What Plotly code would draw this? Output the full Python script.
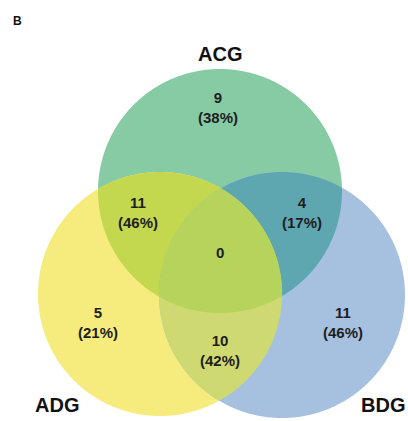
import numpy as np
import plotly.graph_objects as go

# Set names and region counts / shares
set_names = ["ACG", "ADG", "BDG"]
region_keys = ["ACG", "ACG&ADG", "ACG&BDG", "ACG&ADG&BDG", "ADG", "ADG&BDG", "BDG"]
region_counts = [9, 11, 4, 0, 5, 10, 11]
region_pcts = [38, 46, 17, None, 21, 42, 46]
panel_label = "B"

# Layout: circle centres/radii (in pixel-like plot units) and colours
W, H = 408, 421
circles = {
    "ACG": ((220, 191), 122),
    "ADG": ((160, 294), 122),
    "BDG": ((282, 295), 123),
}
fill = {
    "ACG": "#86CBA4",
    "ADG": "#F5EC7D",
    "BDG": "#A6C0DF",
    "ACG&ADG": "#C3D84F",
    "ACG&BDG": "#5EA7B1",
    "ADG&BDG": "#CFD972",
    "ACG&ADG&BDG": "#B6D45B",
}
label_pos = {
    "ACG": (218, 107),
    "ACG&ADG": (138, 212),
    "ACG&BDG": (302, 212),
    "ACG&ADG&BDG": (220, 252),
    "ADG": (98, 322),
    "ADG&BDG": (220, 350),
    "BDG": (343, 322),
}
name_pos = {"ACG": (219.5, 54), "ADG": (57, 405), "BDG": (383, 405)}


def ring(name, n=1440):
    (cx, cy), r = circles[name]
    t = np.linspace(0, 2 * np.pi, n, endpoint=False)
    return np.column_stack([cx + r * np.cos(t), cy + r * np.sin(t)])


def inside(pts, name):
    (cx, cy), r = circles[name]
    return np.hypot(pts[:, 0] - cx, pts[:, 1] - cy) <= r + 1e-9


def intersection_polygon(names):
    """Convex intersection of several circles, as a sampled polygon."""
    keep = []
    for nm in names:
        pts = ring(nm)
        mask = np.ones(len(pts), bool)
        for other in names:
            if other != nm:
                mask &= inside(pts, other)
        keep.append(pts[mask])
    pts = np.vstack(keep)
    c = pts.mean(axis=0)
    order = np.argsort(np.arctan2(pts[:, 1] - c[1], pts[:, 0] - c[0]))
    return pts[order]


def to_path(pts):
    segs = [f"M{pts[0, 0]:.2f},{pts[0, 1]:.2f}"]
    segs += [f"L{x:.2f},{y:.2f}" for x, y in pts[1:]]
    return " ".join(segs) + " Z"


shapes = []
# Single sets (full discs), then pairwise lenses, then the triple region on top
draw_order = ["ACG", "ADG", "BDG", "ACG&ADG", "ACG&BDG", "ADG&BDG", "ACG&ADG&BDG"]
for key in draw_order:
    poly = intersection_polygon(key.split("&"))
    shapes.append(dict(type="path", path=to_path(poly), xref="x", yref="y",
                       fillcolor=fill[key], line=dict(width=0), layer="above"))

font_family = "Arial, Liberation Sans, sans-serif"
annotations = []
for key, cnt, pct in zip(region_keys, region_counts, region_pcts):
    x, y = label_pos[key]
    txt = f"{cnt}" if pct is None else f"{cnt}<br>({pct}%)"
    annotations.append(dict(x=x, y=y, xref="x", yref="y", text=txt, showarrow=False,
                            font=dict(family=font_family, size=15, color="#1e1e1e"),
                            align="center", xanchor="center", yanchor="middle"))

for nm in set_names:
    x, y = name_pos[nm]
    annotations.append(dict(x=x, y=y, xref="x", yref="y", text=f"<b>{nm}</b>",
                            showarrow=False,
                            font=dict(family=font_family, size=20, color="#111111"),
                            xanchor="center", yanchor="middle"))

annotations.append(dict(x=17, y=21, xref="x", yref="y", text=f"<b>{panel_label}</b>",
                        showarrow=False,
                        font=dict(family=font_family, size=12, color="#111111"),
                        xanchor="center", yanchor="middle"))

fig = go.Figure()
fig.update_layout(
    width=W, height=H,
    margin=dict(l=0, r=0, t=0, b=0),
    paper_bgcolor="white", plot_bgcolor="white",
    xaxis=dict(range=[0, W], visible=False, fixedrange=True),
    yaxis=dict(range=[H, 0], visible=False, fixedrange=True),
    shapes=shapes, annotations=annotations,
    showlegend=False,
)
# make labels bold like the counts in the diagram
for a in fig.layout.annotations:
    if not a.text.startswith("<b>"):
        a.text = "<b>" + a.text.replace("<br>", "</b><br><b>") + "</b>"

fig.write_html("out.html")
